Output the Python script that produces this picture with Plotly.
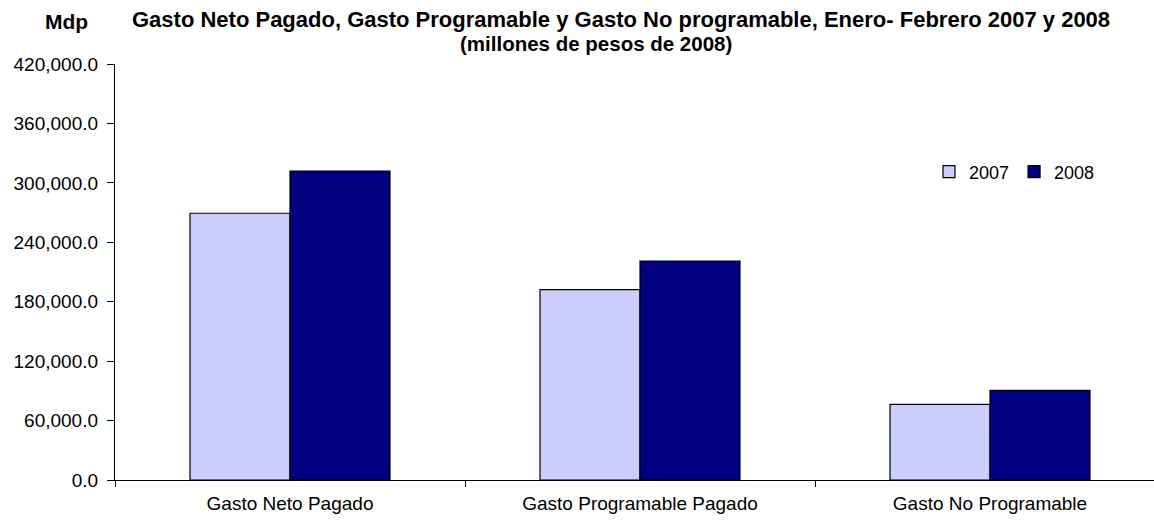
import plotly.graph_objects as go

categories = ["Gasto Neto Pagado", "Gasto Programable Pagado", "Gasto No Programable"]
series_names = ["2007", "2008"]
values_2007 = [269300, 192150, 76400]
values_2008 = [311970, 221100, 90550]
y_ticks = [0, 60000, 120000, 180000, 240000, 300000, 360000, 420000]
y_tick_labels = ["0.0", "60,000.0", "120,000.0", "180,000.0", "240,000.0", "300,000.0", "360,000.0", "420,000.0"]
title_line1 = "Gasto Neto Pagado, Gasto Programable y Gasto No programable, Enero- Febrero 2007 y 2008"
title_line2 = "(millones de pesos de 2008)"
y_unit = "Mdp"

FONT = "Liberation Sans, Arial, sans-serif"
W, H = 1154, 520
ML, MT, MB = 115, 64, 40
cat_px = 350.0
plot_w = W - ML
plot_h = H - MT - MB

fig = go.Figure()
fig.add_trace(go.Bar(name=series_names[0], x=categories, y=values_2007,
                     marker=dict(color="#CCCCFF", line=dict(color="#000000", width=1.2))))
fig.add_trace(go.Bar(name=series_names[1], x=categories, y=values_2008,
                     marker=dict(color="#000080", line=dict(color="#000000", width=1.2))))

fig.update_layout(
    width=W, height=H,
    margin=dict(l=ML, r=0, t=MT, b=MB, pad=0),
    paper_bgcolor="white", plot_bgcolor="white",
    barmode="group", bargap=150/350, bargroupgap=0,
    font=dict(family=FONT, size=19, color="black"),
    showlegend=True,
    legend=dict(orientation="h", x=(929 - ML) / plot_w, y=1 - (172 - MT) / plot_h,
                xanchor="left", yanchor="middle",
                font=dict(family=FONT, size=18, color="black"),
                bgcolor="rgba(0,0,0,0)", itemwidth=30, tracegroupgap=0),
)
fig.update_xaxes(type="category", range=[-0.5, -0.5 + plot_w / cat_px],
                 showline=True, linecolor="black", linewidth=1.3,
                 ticks="outside", tickson="boundaries", ticklen=6, tickcolor="black",
                 ticklabelstandoff=6,
                 showgrid=False, tickfont=dict(family=FONT, size=19, color="black"))
fig.update_yaxes(range=[0, 420000], tickvals=y_ticks, ticktext=y_tick_labels,
                 showline=True, linecolor="black", linewidth=1.3,
                 ticks="outside", ticklen=7, tickcolor="black",
                 ticklabelstandoff=5,
                 showgrid=False, zeroline=False,
                 tickfont=dict(family=FONT, size=19, color="black"))

fig.add_annotation(text="<b>" + y_unit + "</b>", xref="paper", yref="paper",
                   x=(66 - ML) / plot_w, y=1 + (MT - 21) / plot_h, xanchor="center", yanchor="middle",
                   showarrow=False, font=dict(family=FONT, size=21, color="black"))
fig.add_annotation(text="<b>" + title_line1 + "</b>", xref="paper", yref="paper",
                   x=(621 - ML) / plot_w, y=1 + (MT - 19) / plot_h, xanchor="center", yanchor="middle",
                   showarrow=False, font=dict(family=FONT, size=22, color="black"))
fig.add_annotation(text="<b>" + title_line2 + "</b>", xref="paper", yref="paper",
                   x=(596 - ML) / plot_w, y=1 + (MT - 43) / plot_h, xanchor="center", yanchor="middle",
                   showarrow=False, font=dict(family=FONT, size=20.5, color="black"))

fig.write_html("out.html", config={"displayModeBar": False},
               post_script="document.body.style.margin='0px';")
